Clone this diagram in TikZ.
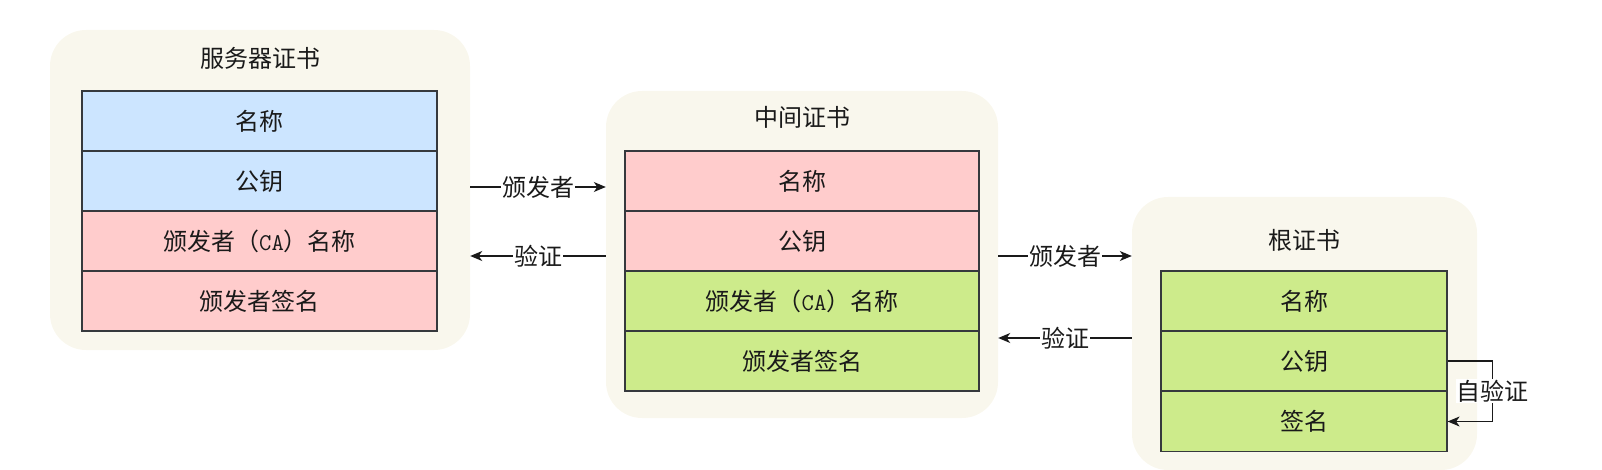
\documentclass[tikz,border=0pt]{standalone}
\usepackage{fontspec}
\setmainfont{Noto Sans CJK SC}
\usetikzlibrary{arrows.meta}
\definecolor{panelbg}{HTML}{F9F7ED}
\definecolor{cellblue}{HTML}{CCE5FF}
\definecolor{cellred}{HTML}{FFCCCC}
\definecolor{cellgreen}{HTML}{CDEB8B}
\definecolor{cellline}{HTML}{36393D}
\definecolor{txt}{HTML}{1A1A1A}
\newcommand{\camono}{\ttfamily}
\begin{document}
\begin{tikzpicture}[x=1pt,y=-1pt,
  panel/.style={fill=panelbg, draw=none, rounded corners=36pt, inner sep=0pt},
  ttl/.style={font=\fontsize{24}{28}\selectfont, text=txt, inner sep=0pt},
  cell/.style={draw=cellline, line width=1.2pt, inner sep=0pt, minimum height=60pt,
    font=\fontsize{24}{28}\selectfont, text=txt},
  lbl/.style={fill=white, inner sep=1pt, font=\fontsize{24}{28}\selectfont, text=txt},
  arr/.style={line width=1.3pt, draw=txt, -{Stealth[length=12pt,width=10pt,inset=3.5pt]}}
]
\useasboundingbox (0,0) rectangle (1602,470);

% panels
\node[panel, minimum width=420pt, minimum height=320pt] (lbg) at (260,190) {};
\node[panel, minimum width=392pt, minimum height=327pt] (mbg) at (802,254.5) {};
\node[panel, minimum width=345pt, minimum height=273pt] (rbg) at (1304.5,333.5) {};

% titles
\node[ttl] (lt) at (260,58) {服务器证书};
\node[ttl] (mt) at (802,117) {中间证书};
\node[ttl] (rt) at (1304,240) {根证书};

% left table
\node[cell, fill=cellblue, minimum width=355pt] (l1) at (259.5,121) {名称};
\node[cell, fill=cellblue, minimum width=355pt] (l2) at (259.5,181) {公钥};
\node[cell, fill=cellred, minimum width=355pt] (l3) at (259.5,241) {颁发者（{\camono CA}）名称};
\node[cell, fill=cellred, minimum width=355pt] (l4) at (259.5,301) {颁发者签名};

% middle table
\node[cell, fill=cellred, minimum width=354pt] (m1) at (802,181) {名称};
\node[cell, fill=cellred, minimum width=354pt] (m2) at (802,241) {公钥};
\node[cell, fill=cellgreen, minimum width=354pt] (m3) at (802,301) {颁发者（{\camono CA}）名称};
\node[cell, fill=cellgreen, minimum width=354pt] (m4) at (802,361) {颁发者签名};

% right table
\node[cell, fill=cellgreen, minimum width=286pt] (r1) at (1304,301) {名称};
\node[cell, fill=cellgreen, minimum width=286pt] (r2) at (1304,361) {公钥};
\node[cell, fill=cellgreen, minimum width=286pt] (r3) at (1304,421.5) {签名};

% connector levels
\coordinate (ya) at (0,187);
\coordinate (yb) at (0,256);
\coordinate (yc) at (0,338);

\draw[arr] (lbg.east |- ya) -- node[lbl] {颁发者} (mbg.west |- ya);
\draw[arr] (mbg.west |- yb) -- node[lbl] {验证} (lbg.east |- yb);
\draw[arr] (mbg.east |- yb) -- node[lbl] {颁发者} (rbg.west |- yb);
\draw[arr] (rbg.west |- yc) -- node[lbl] {验证} (mbg.east |- yc);

% self verification loop
\draw[arr] (r2.east) -- ++(45,0) |- node[lbl, pos=0.25] {自验证} (r3.east);
\end{tikzpicture}
\end{document}
